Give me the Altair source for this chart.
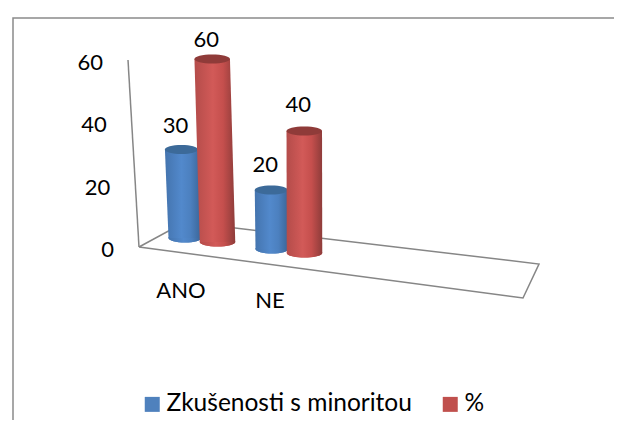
import altair as alt
import pandas as pd

# --- chart values ---
CATEGORIES = ["ANO", "NE"]
SERIES = ["Zkušenosti s minoritou", "%"]
VALUES = {"Zkušenosti s minoritou": [30, 20], "%": [60, 40]}
AXIS_TICKS = [0, 20, 40, 60]
AXIS_MAX = 60

# --- styling ---
FONT = "Lato"
TEXT = "#000000"
GRID = "#868686"
LEGEND_COLORS = ["#4F81BD", "#C0504D"]
LID_COLORS = ["#3C6A99", "#8F3B39"]
GRADIENTS = [
    [("#4474AE", 0), ("#5289CC", 0.45), ("#4C80BF", 0.7), ("#3A6496", 1)],
    [("#B44C4A", 0), ("#D25A58", 0.45), ("#C54F4D", 0.7), ("#8E3C3A", 1)],
]
LABEL_NUDGE = [[-23.5, -25], [-19, -26]]
W, H = 606, 412


# --- oblique projection of (category, series, value) on to the page ---
def base(c, s):
    return 185 + 87 * c + 32 * s + 0.5 * s, 238 + 11 * c + 4 * s


def project(c, s, v):
    bx, by = base(c, s)
    lean = 0.105 - (bx - 200) * 0.00095
    return bx - lean * v, by - (2.95 + 0.1 * s) * v


def bar_width(s):
    return 33 + 2.5 * s


def axis_point(v):
    f = v / AXIS_MAX
    return 139 - 11 * f, 247 - 187 * f


xs = alt.Scale(domain=[8, 8 + W], range=[0, W], nice=False, zero=False)
ys = alt.Scale(domain=[8, 8 + H], range=[0, H], nice=False, zero=False)
X = alt.X("x:Q", scale=xs, axis=None)
Y = alt.Y("y:Q", scale=ys, axis=None)
X2 = alt.X2("x2:Q")

layers = []

# outer frame
frame = pd.DataFrame({"x": [13, 13, 622], "y": [8 + H, 18, 18], "o": [0, 1, 2]})
layers.append(alt.Chart(frame).mark_line(color="#8A8A8A", strokeWidth=1.5).encode(X, Y, order="o:Q"))

# floor plane
floor = pd.DataFrame({"x": [139, 185, 539, 523, 139], "y": [247, 222, 264, 298, 247], "o": range(5)})
layers.append(alt.Chart(floor).mark_line(color=GRID, strokeWidth=1.5).encode(X, Y, order="o:Q"))

# value axis
ax0, ax1 = axis_point(0), axis_point(AXIS_MAX)
axis_line = pd.DataFrame({"x": [ax0[0], ax1[0]], "y": [ax0[1], ax1[1]], "o": [0, 1]})
layers.append(alt.Chart(axis_line).mark_line(color=GRID, strokeWidth=1.5).encode(X, Y, order="o:Q"))

# value-axis labels
tick_rows = [{"x": axis_point(v)[0] - 25, "y": axis_point(v)[1] + 3, "t": str(v)} for v in AXIS_TICKS]
layers.append(
    alt.Chart(pd.DataFrame(tick_rows))
    .mark_text(font=FONT, fontSize=22, color=TEXT, align="right", baseline="middle")
    .encode(X, Y, text="t:N")
)

# category labels
cat_rows = [{"x": 181 + 89 * i, "y": 291 + 10 * i, "t": c} for i, c in enumerate(CATEGORIES)]
layers.append(
    alt.Chart(pd.DataFrame(cat_rows))
    .mark_text(font=FONT, fontSize=22, color=TEXT, align="center", baseline="middle")
    .encode(X, Y, text="t:N")
)


def ellipse(ry):
    return f"M -1 0 A 1 {ry} 0 1 1 1 0 A 1 {ry} 0 1 1 -1 0 Z"


# cylinders
for s, name in enumerate(SERIES):
    w = bar_width(s)
    shape = ellipse(round(2 * 4.5 / w, 4))
    size = w * w
    grad = alt.Gradient(
        gradient="linear", x1=0, x2=1, y1=0, y2=0,
        stops=[alt.GradientStop(color=c, offset=o) for c, o in GRADIENTS[s]],
    )
    bases, body, lids = [], [], []
    for c, v in enumerate(VALUES[name]):
        bx, by = project(c, s, 0)
        tx, ty = project(c, s, v)
        bases.append({"x": bx, "y": by, "series": name})
        lids.append({"x": tx, "y": ty})
        body.append({"x": tx - w / 2, "x2": tx + w / 2, "y": ty, "c": c})
        body.append({"x": bx - w / 2, "x2": bx + w / 2, "y": by, "c": c})
    bases = pd.DataFrame(bases)
    # flat base carries the legend colour
    layers.append(
        alt.Chart(bases)
        .mark_point(filled=True, opacity=1, shape=shape, size=size, strokeWidth=0)
        .encode(
            X, Y,
            color=alt.Color(
                "series:N",
                scale=alt.Scale(domain=SERIES, range=LEGEND_COLORS),
                legend=alt.Legend(
                    title=None, orient="none", legendX=132, legendY=384, direction="horizontal",
                    symbolType="square", symbolSize=225, symbolStrokeWidth=0, symbolOpacity=1,
                    labelFont=FONT, labelFontSize=24.5, labelColor=TEXT, labelOffset=2,
                    columnPadding=26, labelLimit=400,
                ),
            ),
        )
    )
    layers.append(
        alt.Chart(bases)
        .mark_point(filled=True, opacity=1, fill=grad, shape=shape, size=size, strokeWidth=0)
        .encode(X, Y)
    )
    layers.append(
        alt.Chart(pd.DataFrame(body))
        .mark_area(orient="horizontal", fill=grad)
        .encode(
            alt.Y("y:Q", scale=ys, axis=None),
            alt.X("x:Q", scale=xs, axis=None),
            X2,
            detail="c:N",
        )
    )
    layers.append(
        alt.Chart(pd.DataFrame(lids))
        .mark_point(filled=True, opacity=1, color=LID_COLORS[s], shape=shape, size=size, strokeWidth=0)
        .encode(X, Y)
    )

# data labels
lab_rows = []
for s, name in enumerate(SERIES):
    for c, v in enumerate(VALUES[name]):
        tx, ty = project(c, s, v)
        lab_rows.append({"x": tx - 6, "y": ty + LABEL_NUDGE[s][c], "t": str(v)})
layers.append(
    alt.Chart(pd.DataFrame(lab_rows))
    .mark_text(font=FONT, fontSize=22, color=TEXT, align="center", baseline="middle")
    .encode(X, Y, text="t:N")
)

chart = (
    alt.layer(*layers)
    .properties(
        width=W, height=H, padding=0,
        autosize=alt.AutoSizeParams(type="none"),
        background="white",
    )
    .configure_view(stroke=None)
)

chart.save("out.html", embed_options={"renderer": "svg", "actions": False})
